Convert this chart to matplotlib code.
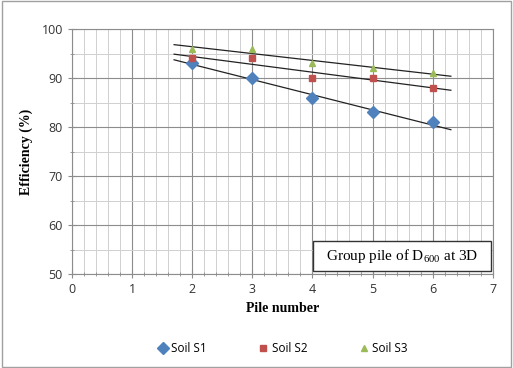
import numpy as np
import matplotlib.pyplot as plt
from matplotlib.patches import Rectangle
from matplotlib.ticker import MultipleLocator

pile_number = [2, 3, 4, 5, 6]
soil_s1 = [93, 90, 86, 83, 81]
soil_s2 = [94, 94, 90, 90, 88]
soil_s3 = [96, 96, 93, 92, 91]

plt.rcParams['mathtext.fontset'] = 'custom'
plt.rcParams['mathtext.rm'] = 'Liberation Serif'

fig = plt.figure(figsize=(5.13, 3.68), dpi=100)
ax = fig.add_axes([0.140, 0.255, 0.821, 0.666])

series = [
    (soil_s1, 'Soil S1', 'D', '#4F81BD', 6),
    (soil_s2, 'Soil S2', 's', '#C0504D', 5),
    (soil_s3, 'Soil S3', '^', '#9BBB59', 5),
]

x = np.array(pile_number, dtype=float)
xt = np.array([x.min() - 0.3, x.max() + 0.3])
for ys, name, mk, col, ms in series:
    ax.plot(x, ys, linestyle='none', marker=mk, color=col, markersize=ms,
            label=name, zorder=3)
    # linear trendline with a small forward/backward extension
    k, b = np.polyfit(x, ys, 1)
    ax.plot(xt, k * xt + b, color='#222222', linewidth=0.9, zorder=2)

ax.set_xlim(0, 7)
ax.set_ylim(50, 100)
ax.xaxis.set_major_locator(MultipleLocator(1))
ax.xaxis.set_minor_locator(MultipleLocator(0.2))
ax.yaxis.set_major_locator(MultipleLocator(10))
ax.yaxis.set_minor_locator(MultipleLocator(5))
ax.grid(which='major', color='#8C8C8C', linewidth=0.8)
ax.grid(which='minor', color='#D0D0D0', linewidth=0.7)
ax.set_axisbelow(True)
for s in ax.spines.values():
    s.set_color('#8C8C8C')
ax.tick_params(which='both', direction='inout', color='#8C8C8C',
               labelsize=9, labelcolor='#333333')
ax.tick_params(which='major', length=6)
ax.tick_params(which='minor', length=3)
for lab in ax.get_xticklabels() + ax.get_yticklabels():
    lab.set_family('Open Sans')

ax.set_xlabel('Pile number', family='Liberation Serif', fontweight='bold',
              fontsize=10, labelpad=4)
ax.set_ylabel('Efficiency (%)', family='Liberation Serif', fontweight='bold',
              fontsize=10, labelpad=6)

# caption box in the lower right corner
ax.add_patch(Rectangle((0.572, 0.012), 0.423, 0.122, transform=ax.transAxes,
                       facecolor='white', edgecolor='#333333', linewidth=1.0,
                       zorder=4))
ax.text(0.784, 0.073, r'Group pile of D$_{\mathrm{600}}$ at 3D',
        transform=ax.transAxes, ha='center', va='center',
        family='Liberation Serif', fontsize=11, zorder=5)

fig.legend(loc='center', bbox_to_anchor=(0.55, 0.052), ncol=3, frameon=False,
           prop={'family': 'Open Sans', 'size': 8.5}, handletextpad=0.2,
           columnspacing=4.3, handlelength=1.0)

fig.patches.append(plt.Rectangle((0.003, 0.003), 0.994, 0.994,
                                 transform=fig.transFigure, fill=False,
                                 edgecolor='#A0A0A0', linewidth=1.0))

fig.savefig('out.png', dpi=100)
